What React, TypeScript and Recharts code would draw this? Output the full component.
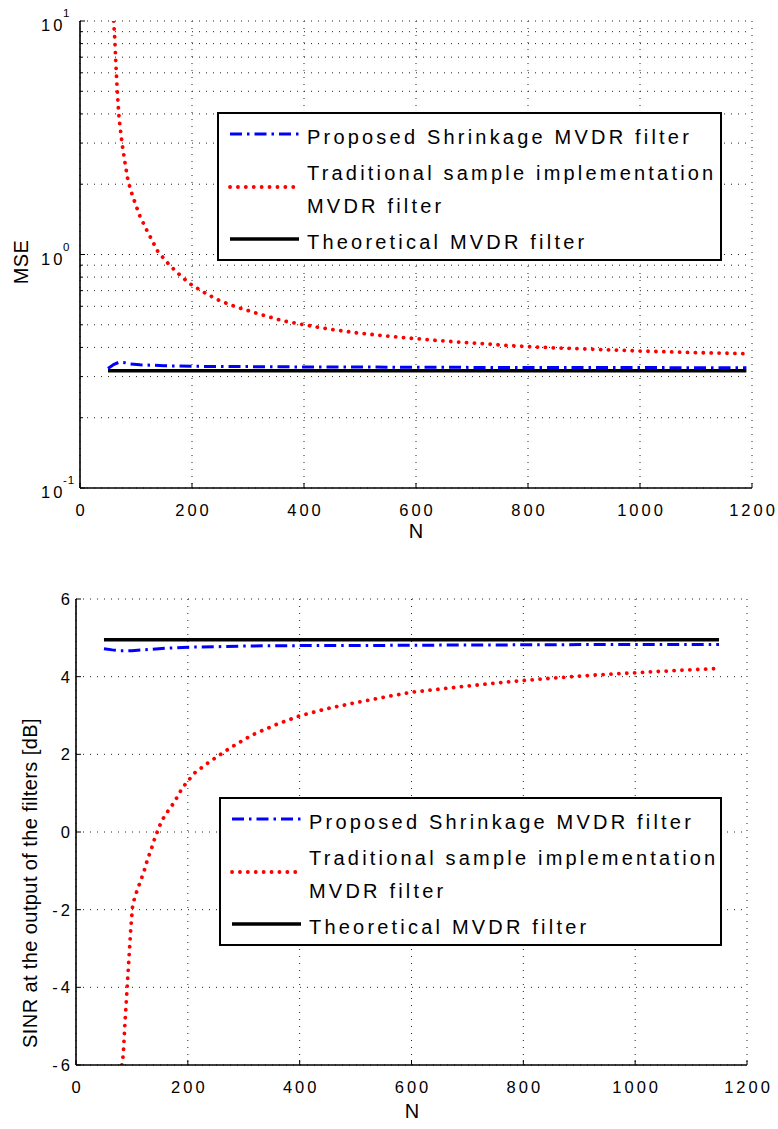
import { CartesianGrid, Label, Legend, Line, LineChart, XAxis, YAxis } from 'recharts';

const FONT = '"Liberation Sans", Arial, Helvetica, sans-serif';
const BLUE = '#0000ff';
const RED = '#ff0000';
const INK = '#000000';

// N axis (both panels)
const nTicks = [0, 200, 400, 600, 800, 1000, 1200];

// --- top panel: MSE (log) ---
const mseTicks = [0.1, 0.2, 0.3, 0.4, 0.5, 0.6, 0.7, 0.8, 0.9, 1, 2, 3, 4, 5, 6, 7, 8, 9, 10];

const mseShrinkN = [50, 60, 70, 80, 90, 107, 150, 200, 300, 400, 600, 800, 1000, 1190];
const mseShrink = [0.325, 0.338, 0.346, 0.344, 0.34, 0.337, 0.334, 0.332, 0.331, 0.33, 0.329, 0.328, 0.328, 0.327];

const mseSampleN = [
  60, 62, 64, 66, 68, 70, 75, 80, 85, 90, 100, 107, 120, 139, 160, 180, 196, 225, 249, 280, 320, 362,
  400, 450, 500, 550, 600, 650, 700, 750, 800, 850, 900, 950, 1000, 1050, 1100, 1150, 1190,
];
const mseSample = [
  10, 8.5, 6.6, 5.3, 4.4, 3.8, 3.0, 2.5, 2.12, 1.9, 1.62, 1.46, 1.26, 1.03, 0.9, 0.81, 0.75, 0.68, 0.635,
  0.595, 0.556, 0.52, 0.5, 0.477, 0.46, 0.447, 0.436, 0.426, 0.418, 0.41, 0.403, 0.398, 0.394, 0.39,
  0.386, 0.383, 0.38, 0.378, 0.376,
];

const mseTheoryN = [50, 400, 800, 1190];
const mseTheory = [0.318, 0.318, 0.318, 0.318];

// --- bottom panel: SINR [dB] ---
const sinrTicks = [-6, -4, -2, 0, 2, 4, 6];

const sinrShrinkN = [50, 65, 80, 100, 130, 160, 200, 250, 300, 400, 500, 600, 800, 1000, 1150];
const sinrShrink = [4.72, 4.69, 4.67, 4.67, 4.7, 4.73, 4.76, 4.77, 4.79, 4.8, 4.8, 4.81, 4.82, 4.83, 4.83];

const sinrSampleN = [
  82, 84.5, 87.5, 91, 94.5, 98, 101, 105, 111, 117, 123, 128, 134, 140, 146, 153, 162, 172, 181, 190,
  200, 212, 236, 275, 315, 360, 400, 450, 500, 550, 600, 650, 700, 775, 850, 925, 1000, 1075, 1150,
];
const sinrSample = [
  -6, -5.74, -4.93, -4.12, -3.3, -2.48, -1.94, -1.68, -1.44, -1.2, -0.95, -0.7, -0.47, -0.2, 0.03, 0.28,
  0.49, 0.69, 0.9, 1.13, 1.31, 1.52, 1.78, 2.16, 2.5, 2.78, 2.99, 3.18, 3.33, 3.47, 3.6, 3.68, 3.76, 3.87,
  3.96, 4.04, 4.1, 4.16, 4.21,
];

const sinrTheoryN = [50, 400, 800, 1150];
const sinrTheory = [4.95, 4.95, 4.95, 4.95];

const LABELS = {
  shrink: 'Proposed Shrinkage MVDR filter',
  sample1: 'Traditional sample implementation',
  sample2: 'MVDR filter',
  theory: 'Theoretical MVDR filter',
};

const zip = (ns: number[], vs: number[]) => ns.map((n, i) => ({ n, v: vs[i] }));

const TICK_FONT = 16.5;
const TICK_LS = 3;
const RED_DOTS = { stroke: RED, strokeWidth: 3.8, strokeDasharray: '0.1 7.8', strokeLinecap: 'round' as const };
const BLUE_DASH = { stroke: BLUE, strokeWidth: 3, strokeDasharray: '12 5 2.5 5' };

// ticks drawn MATLAB-style: short marks pointing inward
function NTick({ x, y, payload }: any) {
  return (
    <g>
      <line x1={x} x2={x} y1={y} y2={y - 5} stroke={INK} strokeWidth={1} />
      <text
        x={x + TICK_LS / 2}
        y={y + 22}
        textAnchor="middle"
        dominantBaseline="central"
        fontFamily={FONT}
        fontSize={TICK_FONT}
        letterSpacing={TICK_LS}
        fill={INK}
      >
        {payload.value}
      </text>
    </g>
  );
}

function TopTick({ x, y }: any) {
  return <line x1={x} x2={x} y1={y} y2={y + 5} stroke={INK} strokeWidth={1} />;
}

const isDecade = (v: number) => Math.abs(Math.log10(v) - Math.round(Math.log10(v))) < 1e-6;

function LogTick({ x, y, payload }: any) {
  const v = payload.value as number;
  if (!isDecade(v)) {
    return <line x1={x} x2={x + 3} y1={y} y2={y} stroke={INK} strokeWidth={1} />;
  }
  return (
    <g>
      <line x1={x} x2={x + 5} y1={y} y2={y} stroke={INK} strokeWidth={1} />
      <text x={x - 39} y={y + 4} dominantBaseline="central" fontFamily={FONT} fontSize={TICK_FONT} letterSpacing={TICK_LS} fill={INK}>
        10
      </text>
      <text x={x - 17} y={y - 8} dominantBaseline="central" fontFamily={FONT} fontSize={11.5} letterSpacing={1} fill={INK}>
        {Math.round(Math.log10(v))}
      </text>
    </g>
  );
}

function DbTick({ x, y, payload }: any) {
  return (
    <g>
      <line x1={x} x2={x + 5} y1={y} y2={y} stroke={INK} strokeWidth={1} />
      <text
        x={x - 6 + TICK_LS}
        y={y}
        textAnchor="end"
        dominantBaseline="central"
        fontFamily={FONT}
        fontSize={TICK_FONT}
        letterSpacing={TICK_LS}
        fill={INK}
      >
        {payload.value}
      </text>
    </g>
  );
}

function RightTick({ x, y, payload, minorLog }: any) {
  const len = minorLog && !isDecade(payload.value) ? 3 : 5;
  return <line x1={x} x2={x - len} y1={y} y2={y} stroke={INK} strokeWidth={1} />;
}

const axisLabel = (text: string, x: number, y: number, rotate = false) => () => (
  <text
    x={x}
    y={y}
    textAnchor="middle"
    dominantBaseline="central"
    transform={rotate ? `rotate(-90 ${x} ${y})` : undefined}
    fontFamily={FONT}
    fontSize={20}
    letterSpacing={rotate ? 0.4 : 0}
    fill={INK}
  >
    {text}
  </text>
);

function LegendBox({ width }: { width: number }) {
  const h = 149;
  const t = { fontFamily: FONT, fontSize: 20, letterSpacing: 3.2, fill: INK, dominantBaseline: 'central' as const };
  return (
    <svg width={width} height={h} style={{ display: 'block' }}>
      <rect x={1} y={1} width={width - 2} height={h - 2} fill="#fff" stroke={INK} strokeWidth={2} />
      <line x1={13} x2={82} y1={22} y2={22} {...BLUE_DASH} />
      <text x={90} y={25} {...t}>{LABELS.shrink}</text>
      <line x1={13} x2={82} y1={75} y2={75} {...RED_DOTS} />
      <text x={90} y={61} {...t}>{LABELS.sample1}</text>
      <text x={90} y={94} {...t}>{LABELS.sample2}</text>
      <line x1={13} x2={82} y1={127} y2={127} stroke={INK} strokeWidth={3.5} />
      <text x={90} y={130} {...t}>{LABELS.theory}</text>
    </svg>
  );
}

const gridProps = { stroke: '#222', strokeDasharray: '1 6', strokeWidth: 1 };
const frame = { stroke: INK, strokeWidth: 1.6 };

function MsePanel() {
  return (
    <LineChart width={778} height={560} margin={{ top: 21, right: 26, bottom: 42, left: 30 }}>
      <CartesianGrid {...gridProps} />
      <XAxis
        dataKey="n"
        type="number"
        domain={[0, 1200]}
        ticks={nTicks}
        interval={0}
        height={30}
        tickSize={0}
        tickMargin={0}
        tick={NTick}
        tickLine={false}
        axisLine={frame}
      >
        <Label content={axisLabel('N', 416, 531)} />
      </XAxis>
      <XAxis xAxisId="top" orientation="top" type="number" domain={[0, 1200]} ticks={nTicks} interval={0} height={0} tickSize={0} tickMargin={0} tick={TopTick} tickLine={false} axisLine={frame} />
      <YAxis
        type="number"
        scale="log"
        domain={[0.1, 10]}
        allowDataOverflow
        ticks={mseTicks}
        interval={0}
        width={50}
        tickSize={0}
        tickMargin={0}
        tick={LogTick}
        tickLine={false}
        axisLine={frame}
      >
        <Label content={axisLabel('MSE', 21, 262, true)} />
      </YAxis>
      <YAxis yAxisId="r" orientation="right" type="number" scale="log" domain={[0.1, 10]} allowDataOverflow ticks={mseTicks} interval={0} width={0} tickSize={0} tickMargin={0} tick={(p: any) => <RightTick {...p} minorLog />} tickLine={false} axisLine={frame} />
      <Line data={zip(mseSampleN, mseSample)} dataKey="v" {...RED_DOTS} dot={false} isAnimationActive={false} />
      <Line data={zip(mseTheoryN, mseTheory)} dataKey="v" stroke={INK} strokeWidth={3.5} dot={false} isAnimationActive={false} />
      <Line data={zip(mseShrinkN, mseShrink)} dataKey="v" {...BLUE_DASH} dot={false} isAnimationActive={false} />
      <Legend
        layout="vertical"
        align="center"
        verticalAlign="middle"
        content={() => <LegendBox width={505} />}
        wrapperStyle={{ left: 217, top: 112, width: 505, height: 149, margin: 0, padding: 0, lineHeight: 0 }}
      />
    </LineChart>
  );
}

function SinrPanel() {
  return (
    <LineChart width={778} height={569} margin={{ top: 39, right: 31, bottom: 34, left: 26 }}>
      <CartesianGrid {...gridProps} />
      <XAxis
        dataKey="n"
        type="number"
        domain={[0, 1200]}
        ticks={nTicks}
        interval={0}
        height={30}
        tickSize={0}
        tickMargin={0}
        tick={NTick}
        tickLine={false}
        axisLine={frame}
      >
        <Label content={axisLabel('N', 412, 551)} />
      </XAxis>
      <XAxis xAxisId="top" orientation="top" type="number" domain={[0, 1200]} ticks={nTicks} interval={0} height={0} tickSize={0} tickMargin={0} tick={TopTick} tickLine={false} axisLine={frame} />
      <YAxis
        type="number"
        domain={[-6, 6]}
        allowDataOverflow
        ticks={sinrTicks}
        interval={0}
        width={50}
        tickSize={0}
        tickMargin={0}
        tick={DbTick}
        tickLine={false}
        axisLine={frame}
      >
        <Label content={axisLabel('SINR at the output of the filters [dB]', 30, 323, true)} />
      </YAxis>
      <YAxis yAxisId="r" orientation="right" type="number" domain={[-6, 6]} ticks={sinrTicks} interval={0} width={0} tickSize={0} tickMargin={0} tick={RightTick} tickLine={false} axisLine={frame} />
      <Line data={zip(sinrSampleN, sinrSample)} dataKey="v" {...RED_DOTS} dot={false} isAnimationActive={false} />
      <Line data={zip(sinrTheoryN, sinrTheory)} dataKey="v" stroke={INK} strokeWidth={3.5} dot={false} isAnimationActive={false} />
      <Line data={zip(sinrShrinkN, sinrShrink)} dataKey="v" {...BLUE_DASH} dot={false} isAnimationActive={false} />
      <Legend
        layout="vertical"
        align="center"
        verticalAlign="middle"
        content={() => <LegendBox width={503} />}
        wrapperStyle={{ left: 219, top: 237, width: 503, height: 149, margin: 0, padding: 0, lineHeight: 0 }}
      />
    </LineChart>
  );
}

export default function App() {
  return (
    <div style={{ position: 'absolute', left: 0, top: 0, width: 778, height: 1129, background: '#fff' }}>
      <MsePanel />
      <SinrPanel />
    </div>
  );
}
